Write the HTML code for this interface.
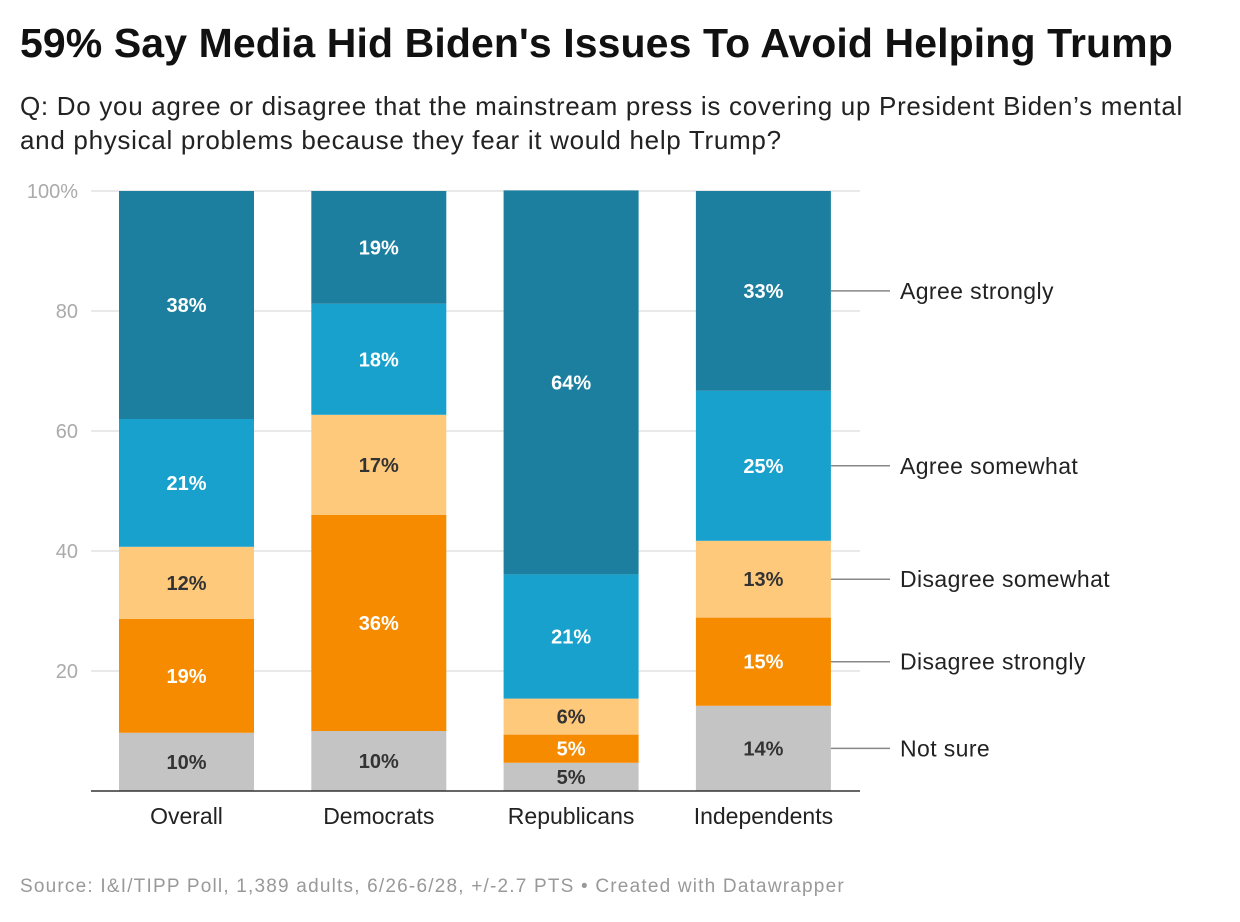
<!DOCTYPE html>
<html><head><meta charset="utf-8"><style>
body{margin:0;background:#fff;font-family:"Liberation Sans",sans-serif;width:1240px;height:922px;overflow:hidden;position:relative}
.t{position:absolute;left:20px;top:20px;font-size:41px;font-weight:bold;color:#111;letter-spacing:0.1px;white-space:nowrap}
.s{position:absolute;left:20px;top:89px;font-size:26px;line-height:34px;color:#222;width:1180px;letter-spacing:0.7px}
.f{position:absolute;left:20px;top:876px;font-size:19px;color:#999;letter-spacing:1.2px;white-space:nowrap}
</style></head><body>
<div class="t">59% Say Media Hid Biden's Issues To Avoid Helping Trump</div>
<div class="s">Q: Do you agree or disagree that the mainstream press is covering up President Biden’s mental and physical problems because they fear it would help Trump?</div>
<svg id="c" width="1240" height="922" style="position:absolute;left:0;top:0"></svg>
<div class="f">Source: I&amp;I/TIPP Poll, 1,389 adults, 6/26-6/28, +/-2.7 PTS • Created with Datawrapper</div>
<script>
const categories=["Overall","Democrats","Republicans","Independents"];
const seriesNames=["Not sure","Disagree strongly","Disagree somewhat","Agree somewhat","Agree strongly"];
const notSure=[9.7,10,4.7,14.2];
const disagreeStrongly=[19,36,4.7,14.7];
const disagreeSomewhat=[12,16.7,6,12.8];
const agreeSomewhat=[21.3,18.5,20.7,25];
const agreeStrongly=[38,18.8,64,33.3];
const labels=[[10,10,5,14],[19,36,5,15],[12,17,6,13],[21,18,21,25],[38,19,64,33]];
const ticks=[20,40,60,80,100];
const series=[notSure,disagreeStrongly,disagreeSomewhat,agreeSomewhat,agreeStrongly];
const colors=["#c4c4c4","#f68b00","#fec97b","#18a1cd","#1d7f9f"];
const dark=[true,false,true,false,false];
const svg=document.getElementById('c');const NS="http://www.w3.org/2000/svg";
const y=v=>791-v*6;const xb=i=>119+i*192.3;const bw=135;
function mk(t,a,p){const e=document.createElementNS(NS,t);for(const k in a)e.setAttribute(k,a[k]);(p||svg).appendChild(e);return e;}
ticks.forEach(t=>{
 const l=mk('line',{x1:91,x2:860,y1:y(t),y2:y(t),stroke:'#e2e2e2','stroke-width':1.5});
 
 
 const tx=mk('text',{x:78,y:y(t)+7,'text-anchor':'end','font-size':20,fill:'#aaa'});
 tx.textContent=t===100?'100%':t;
 
 
});
categories.forEach((c,i)=>{
 let acc=0;
 series.forEach((s,k)=>{
  const v=s[i];
  const r=mk('rect',{x:xb(i),y:y(acc+v),width:bw,height:v*6,fill:colors[k]});
  
  
  const t=mk('text',{x:xb(i)+bw/2,y:y(acc+v/2)+7,'text-anchor':'middle','font-size':20,'font-weight':'bold',fill:dark[k]?'#333':'#fff'});
  t.textContent=labels[k][i]+'%';
  
  
  if(i===3){
   const m=y(acc+v/2);
   const ln=mk('line',{x1:xb(i)+bw,x2:890,y1:m,y2:m,stroke:'#888','stroke-width':1.5});
   
   
   const lt=mk('text',{x:900,y:m+8,'font-size':23,fill:'#222','letter-spacing':0.4});
   lt.textContent=seriesNames[k];
   
   
  }
  acc+=v;
 });
 const xl=mk('text',{x:xb(i)+bw/2,y:824,'text-anchor':'middle','font-size':23,fill:'#222'});
 xl.textContent=c;
 
 
});
const base=mk('line',{x1:91,x2:860,y1:791,y2:791,stroke:'#333','stroke-width':1.5});


</script>
</body></html>
